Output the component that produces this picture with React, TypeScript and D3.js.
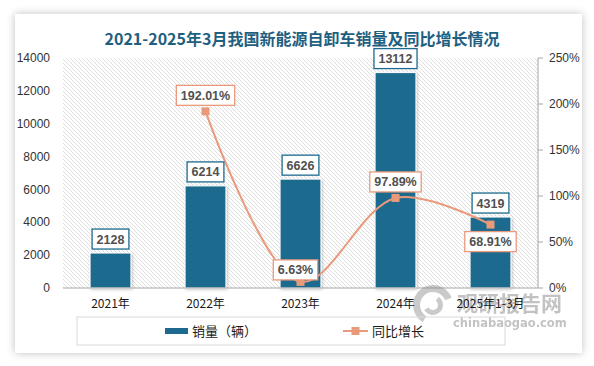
import { useEffect, useRef } from 'react';
import * as d3 from 'd3';

const categories = ['2021年', '2022年', '2023年', '2024年', '2025年1-3月'];
const sales = [2128, 6214, 6626, 13112, 4319];
// growth rate in %, first year has no value
const growth: (number | null)[] = [null, 192.01, 6.63, 97.89, 68.91];
const leftTicks = [0, 2000, 4000, 6000, 8000, 10000, 12000, 14000];
const rightTicks = [0, 50, 100, 150, 200, 250];
// where each growth label sits relative to its marker
const growthLabelSide = ['', 'above', 'above', 'above', 'below'];

const TITLE = '2021-2025年3月我国新能源自卸车销量及同比增长情况';
const BAR = '#1d6a8e';
const LINE = '#e99a7b';
const NUM_FONT = '"Liberation Sans", Arial, sans-serif';
const CJK_FONT = '"Noto Sans CJK SC", "Noto Sans", sans-serif';

export default function App() {
  const svgRef = useRef<SVGSVGElement>(null);

  useEffect(() => {
    if (!svgRef.current) return;
    const width = 594;
    const height = 366;
    const plot = { left: 63, right: 538, top: 58, bottom: 288 };

    const svg = d3.select(svgRef.current);
    svg.selectAll('*').remove();
    svg.attr('width', width).attr('height', height);

    const defs = svg.append('defs');
    const shadow = defs.append('filter').attr('id', 'cardShadow')
      .attr('x', '-10%').attr('y', '-10%').attr('width', '120%').attr('height', '120%');
    shadow.append('feDropShadow').attr('dx', 0).attr('dy', 0)
      .attr('stdDeviation', 4).attr('flood-color', '#000').attr('flood-opacity', 0.25);

    const barShadow = defs.append('filter').attr('id', 'barShadow')
      .attr('x', '-20%').attr('y', '-20%').attr('width', '140%').attr('height', '140%');
    barShadow.append('feDropShadow').attr('dx', 1).attr('dy', 1)
      .attr('stdDeviation', 1.5).attr('flood-color', '#000').attr('flood-opacity', 0.25);

    const hatch = defs.append('pattern').attr('id', 'hatch')
      .attr('patternUnits', 'userSpaceOnUse').attr('width', 4).attr('height', 4);
    hatch.append('rect').attr('width', 4).attr('height', 4).attr('fill', '#fff');
    hatch.append('path')
      .attr('d', 'M-1,-1 L5,5 M3,-1 L5,1 M-1,3 L1,5')
      .attr('stroke', '#d6d6d6').attr('stroke-width', 0.8);

    // card
    svg.append('rect')
      .attr('x', 15).attr('y', 14).attr('width', 567).attr('height', 339)
      .attr('fill', '#fff').attr('filter', 'url(#cardShadow)');

    svg.append('text')
      .attr('x', 302).attr('y', 45)
      .attr('text-anchor', 'middle')
      .attr('fill', '#1f5f80')
      .style('font-family', CJK_FONT)
      .style('font-size', '16px')
      .style('font-weight', 'bold')
      .text(TITLE);

    const x = d3.scaleBand<string>()
      .domain(categories)
      .range([plot.left, plot.right])
      .paddingInner(0.57)
      .paddingOuter(0.285);
    const cx = (c: string) => (x(c) ?? 0) + x.bandwidth() / 2;

    const y = d3.scaleLinear().domain([0, 14000]).range([plot.bottom, plot.top]);
    const y2 = d3.scaleLinear().domain([0, 250]).range([plot.bottom, plot.top]);

    svg.append('rect')
      .attr('x', plot.left).attr('y', plot.top)
      .attr('width', plot.right - plot.left).attr('height', plot.bottom - plot.top)
      .attr('fill', 'url(#hatch)');

    // left axis labels
    svg.append('g').selectAll('text').data(leftTicks).join('text')
      .attr('x', 50).attr('y', (d) => y(d)).attr('dy', '0.35em')
      .attr('text-anchor', 'end').attr('fill', '#333')
      .style('font-family', NUM_FONT).style('font-size', '12px')
      .text((d) => String(d));

    // right axis
    const right = svg.append('g');
    right.append('line')
      .attr('x1', plot.right).attr('x2', plot.right)
      .attr('y1', plot.top).attr('y2', plot.bottom)
      .attr('stroke', '#a6a6a6');
    right.selectAll('line.tick').data(rightTicks).join('line')
      .attr('class', 'tick')
      .attr('x1', plot.right).attr('x2', plot.right + 5)
      .attr('y1', (d) => y2(d)).attr('y2', (d) => y2(d))
      .attr('stroke', '#a6a6a6');
    right.selectAll('text').data(rightTicks).join('text')
      .attr('x', plot.right + 11).attr('y', (d) => y2(d)).attr('dy', '0.35em')
      .attr('fill', '#333')
      .style('font-family', NUM_FONT).style('font-size', '12px')
      .text((d) => `${d}%`);

    // bars
    svg.append('g').selectAll('rect').data(sales).join('rect')
      .attr('x', (_, i) => x(categories[i]) ?? 0)
      .attr('y', (d) => y(d))
      .attr('width', x.bandwidth())
      .attr('height', (d) => plot.bottom - y(d))
      .attr('fill', BAR)
      .attr('stroke', '#fff')
      .attr('stroke-width', 1)
      .attr('filter', 'url(#barShadow)');

    // bottom axis line
    svg.append('line')
      .attr('x1', plot.left).attr('x2', plot.right)
      .attr('y1', plot.bottom).attr('y2', plot.bottom)
      .attr('stroke', '#a6a6a6');

    // growth line
    const pts = growth
      .map((g, i) => ({ g, c: categories[i], side: growthLabelSide[i] }))
      .filter((p) => p.g !== null) as { g: number; c: string; side: string }[];

    const line = d3.line<{ g: number; c: string }>()
      .x((d) => cx(d.c))
      .y((d) => y2(d.g))
      .curve(d3.curveCatmullRom.alpha(0.5));

    svg.append('path')
      .datum(pts)
      .attr('fill', 'none')
      .attr('stroke', LINE)
      .attr('stroke-width', 2)
      .attr('d', line);

    svg.append('g').selectAll('rect').data(pts).join('rect')
      .attr('x', (d) => cx(d.c) - 4)
      .attr('y', (d) => y2(d.g) - 4)
      .attr('width', 8).attr('height', 8)
      .attr('fill', LINE);

    // watermark
    const wm = svg.append('g').attr('opacity', 0.45);
    const arc = d3.arc<any>();
    wm.append('path')
      .attr('transform', 'translate(433,305)')
      .attr('d', arc({ innerRadius: 13, outerRadius: 20, startAngle: -2.6, endAngle: 1.2 }) ?? '')
      .attr('fill', '#8c8c8c');
    wm.append('path')
      .attr('transform', 'translate(433,305)')
      .attr('d', arc({ innerRadius: 5, outerRadius: 10, startAngle: 0.6, endAngle: 4.2 }) ?? '')
      .attr('fill', '#8c8c8c');
    wm.append('text')
      .attr('x', 457).attr('y', 311)
      .attr('fill', '#7a7a7a')
      .style('font-family', CJK_FONT).style('font-size', '21px').style('font-weight', 'bold')
      .text('观研报告网');
    wm.append('text')
      .attr('x', 453).attr('y', 327)
      .attr('fill', '#7a7a7a')
      .style('font-family', '"DejaVu Sans", sans-serif').style('font-size', '11.5px').style('font-weight', 'bold')
      .text('chinabaogao.com');

    // category labels
    svg.append('g').selectAll('text').data(categories).join('text')
      .attr('x', (d) => cx(d)).attr('y', 304).attr('dy', '0.35em')
      .attr('text-anchor', 'middle').attr('fill', '#1a1a1a')
      .style('font-family', CJK_FONT).style('font-size', '12px')
      .text((d) => d);

    // boxed labels
    const boxed = (
      text: string, px: number, anchorY: number, side: 'above' | 'below', stroke: string, gap: number,
    ) => {
      const g = svg.append('g');
      const t = g.append('text')
        .attr('text-anchor', 'middle')
        .attr('fill', '#505050')
        .style('font-family', NUM_FONT).style('font-size', '12.5px').style('font-weight', 'bold')
        .text(text);
      const w = (t.node() as SVGTextElement).getComputedTextLength() + 9;
      const h = 20;
      const top = side === 'above' ? anchorY - gap - h : anchorY + gap;
      g.insert('rect', 'text')
        .attr('x', px - w / 2).attr('y', top).attr('width', w).attr('height', h)
        .attr('fill', '#fff').attr('stroke', stroke).attr('stroke-width', 1.3);
      t.attr('x', px).attr('y', top + h / 2).attr('dy', '0.36em');
    };

    sales.forEach((v, i) => boxed(String(v), cx(categories[i]), y(v), 'above', BAR, 4));
    pts.forEach((p) => {
      const gap = p.side === 'below' ? 7 : p.g < 20 ? 2 : 6;
      const shift = p.g < 20 ? -5 : 0;
      boxed(`${p.g.toFixed(2)}%`, cx(p.c) + shift, y2(p.g), p.side as 'above' | 'below', LINE, gap);
    });

    // legend
    const lg = svg.append('g');
    lg.append('rect')
      .attr('x', 77).attr('y', 317).attr('width', 428).attr('height', 28)
      .attr('fill', 'none').attr('stroke', '#d9d9d9');
    lg.append('rect')
      .attr('x', 165).attr('y', 328).attr('width', 23).attr('height', 6).attr('fill', BAR);
    lg.append('text')
      .attr('x', 192).attr('y', 331).attr('dy', '0.35em').attr('fill', '#1a1a1a')
      .style('font-family', CJK_FONT).style('font-size', '13px')
      .text('销量（辆）');
    lg.append('line')
      .attr('x1', 343).attr('x2', 368).attr('y1', 331).attr('y2', 331)
      .attr('stroke', LINE).attr('stroke-width', 2);
    lg.append('rect')
      .attr('x', 351.5).attr('y', 327).attr('width', 8).attr('height', 8).attr('fill', LINE);
    lg.append('text')
      .attr('x', 372).attr('y', 331).attr('dy', '0.35em').attr('fill', '#1a1a1a')
      .style('font-family', CJK_FONT).style('font-size', '13px')
      .text('同比增长');
  }, []);

  return (
    <div style={{ position: 'absolute', left: 0, top: 0, width: 594, height: 366 }}>
      <svg ref={svgRef} style={{ display: 'block' }} />
    </div>
  );
}
